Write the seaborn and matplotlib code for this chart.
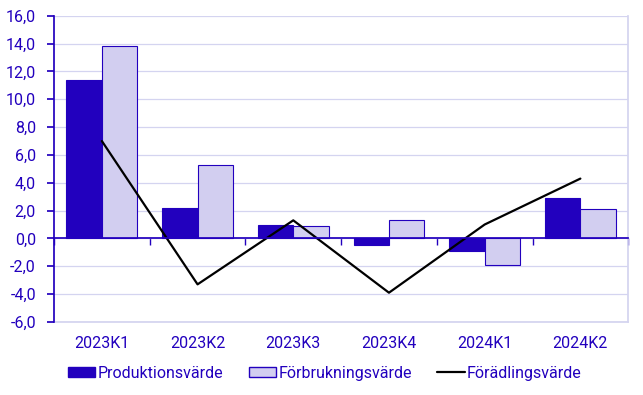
import numpy as np
import pandas as pd
import matplotlib.pyplot as plt
import matplotlib.ticker as mticker
import seaborn as sns

# ── Data ──────────────────────────────────────────────
kvartal = ["2023K1", "2023K2", "2023K3", "2023K4", "2024K1", "2024K2"]
produktion = [11.4, 2.2, 1.0, -0.5, -0.9, 2.9]
forbrukning = [13.8, 5.3, 0.9, 1.3, -1.9, 2.1]
foradling = [7.0, -3.3, 1.3, -3.9, 1.0, 4.3]

DARK = "#2200BE"
LIGHT = "#D2CEF0"
TEXT = "#2200BE"
GRID = "#D4D4F0"

sns.set_theme(style="white")
plt.rcParams["font.family"] = ["Roboto", "DejaVu Sans"]

df = pd.DataFrame({
    "kvartal": kvartal * 2,
    "varde": produktion + forbrukning,
    "serie": ["Produktionsvärde"] * 6 + ["Förbrukningsvärde"] * 6,
})

fig, ax = plt.subplots(figsize=(6.43, 3.95), dpi=100)
fig.subplots_adjust(left=0.084, right=0.977, top=0.96, bottom=0.185)

sns.barplot(data=df, x="kvartal", y="varde", hue="serie",
            palette=[DARK, LIGHT], saturation=1, width=0.74, edgecolor=DARK,
            linewidth=0.8, ax=ax, legend=False, zorder=3)
ax.plot(range(len(kvartal)), foradling, color="black", lw=1.6, zorder=4)

ax.set_ylim(-6, 16)
ax.set_xlim(-0.5, 5.5)
ax.yaxis.set_major_locator(mticker.MultipleLocator(2))
ax.yaxis.set_major_formatter(mticker.FuncFormatter(lambda v, p: f"{v:.1f}".replace(".", ",")))
ax.grid(axis="y", color=GRID, lw=0.9, zorder=0)
ax.set_xlabel("")
ax.set_ylabel("")

ax.spines["right"].set_color(GRID)
ax.spines["top"].set_visible(False)
ax.spines["left"].set_color(DARK)
ax.spines["bottom"].set_position(("data", 0))
ax.spines["bottom"].set_color(DARK)
ax.spines["bottom"].set_zorder(5)

ax.tick_params(axis="y", colors=TEXT, labelsize=11.5, length=5, direction="out",
               left=True, color=DARK, pad=8)
ax.set_xticks(np.arange(len(kvartal)))
ax.set_xticklabels([])
ax.tick_params(axis="x", which="major", length=0)
ax.set_xticks(np.arange(-0.5, len(kvartal), 1), minor=True)
ax.tick_params(axis="x", which="minor", bottom=True, length=5, color=DARK, direction="out")

sec = ax.secondary_xaxis(0)
sec.set_xticks(np.arange(len(kvartal)))
sec.set_xticklabels(kvartal)
sec.tick_params(length=0, colors=TEXT, labelsize=11.5, pad=10)
sec.spines["bottom"].set_color(GRID)

handles = [
    plt.Rectangle((0, 0), 1, 1, facecolor=DARK, edgecolor=DARK),
    plt.Rectangle((0, 0), 1, 1, facecolor=LIGHT, edgecolor=DARK),
    plt.Line2D([0], [0], color="black", lw=1.6),
]
labels = ["Produktionsvärde", "Förbrukningsvärde", "Förädlingsvärde"]
leg = fig.legend(handles, labels, loc="center left", bbox_to_anchor=(0.106, 0.055),
                 ncol=3, frameon=False, fontsize=11.5, handlelength=1.7,
                 handleheight=0.62, handletextpad=0.15, columnspacing=1.6,
                 borderpad=0, borderaxespad=0)
for t in leg.get_texts():
    t.set_color(TEXT)

fig.savefig("out.png", dpi=100)
